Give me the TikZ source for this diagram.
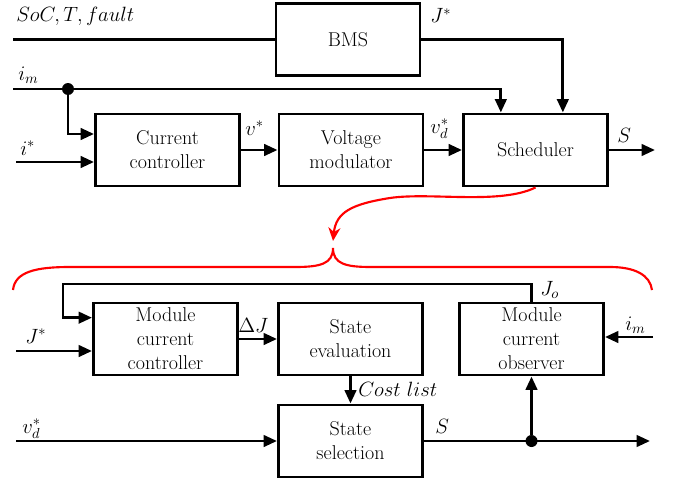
\documentclass[tikz,border=0pt]{standalone}
\usepackage{fix-cm}
\usepackage{fontspec}
\usetikzlibrary{arrows.meta}

\begin{document}
\begin{tikzpicture}[x=0.75pt, y=-0.75pt,
    blk/.style={draw, line width=2.2pt, align=center, inner sep=2pt,
                minimum width=108pt, minimum height=54pt,
                font=\rmfamily\fontsize{15}{18}\selectfont},
    ln/.style={line width=2.2pt},
    arr/.style={ln, -{Triangle[length=10pt, width=8.5pt]}},
    lbl/.style={anchor=base west, inner sep=0pt, font=\fontsize{15.5}{18}\selectfont},
    jdot/.style={circle, fill, inner sep=0pt, minimum size=9pt},
    redline/.style={red, line width=1.6pt}]
  \useasboundingbox (0,0) rectangle (677,485);
  % upper chain
  \node[blk] (bms)   at (348,39.5)  {BMS};
  \node[blk] (cc)    at (167.5,150) {Current\\controller};
  \node[blk] (vm)    at (351,150)   {Voltage\\modulator};
  \node[blk] (sched) at (535.5,150) {Scheduler};
  % inside the scheduler
  \node[blk] (mcc) at (165.5,339) {Module\\current\\controller};
  \node[blk] (se)  at (350.5,339) {State\\evaluation};
  \node[blk] (ss)  at (350.5,441) {State\\selection};
  \node[blk] (mco) at (531.5,339) {Module\\current\\observer};

  \coordinate (socin) at (13,39.5);
  \coordinate (imin)  at (13,89);
  \coordinate (istar) at (16,162);
  \coordinate (sout)  at (655,150);
  \node[jdot] (imdot) at (68,89) {};
  \draw[ln]  (socin) -- (bms.west);
  \draw[ln]  (imin) -- (imdot);
  \draw[arr] (imdot) -| ([xshift=-26pt]sched.north);
  \draw[arr] (imdot) |- ([yshift=12pt]cc.west);
  \draw[arr] (istar) -- (istar -| cc.west);
  \draw[arr] (bms.east) -| ([xshift=20.5pt]sched.north);
  \draw[arr] (cc) -- (vm); \draw[arr] (vm) -- (sched); \draw[arr] (sched) -- (sout);

  \coordinate (fbl)   at (63,284);
  \coordinate (jin)   at (16,351);
  \coordinate (vdin)  at (16,441);
  \coordinate (sout2) at (650,441);
  \coordinate (imin2) at (653,337);
  \node[jdot] (sdot) at (531.5,441) {};
  \draw[arr] (mco.north) |- (fbl) |- ([yshift=16pt]mcc.west);
  \draw[arr] (jin) -- (jin -| mcc.west);
  \draw[arr] (mcc) -- (se); \draw[arr] (se) -- (ss);
  \draw[arr] (vdin) -- (vdin -| ss.west);
  \draw[arr] (ss) -- (sout2);
  \draw[arr] (sdot) -- (mco);
  \draw[arr] (imin2) -- (imin2 -| mco.east);

  % red zoom marker
  \coordinate (tip) at (333,241);
  \draw[redline, -{Stealth[length=10pt, width=9pt]}] (sched.south)
    .. controls (500,205) and (430,192) .. (390,198)
    .. controls (352,204) and (336,212) .. (tip);
  \draw[redline] (13,290) .. controls (15,272) and (35,267) .. (70,267) -- (295,267)
    .. controls (320,267) and (333,264) .. (333,248)
    .. controls (333,264) and (346,267) .. (371,267) -- (610,267)
    .. controls (635,267) and (650,275) .. (652,290);

  % signal labels
  \node[lbl] (lsoc)   at (16,22)   {$SoC,T,fault$};
  \node[lbl] (ljbms)  at (430,23)  {$J^*$};
  \node[lbl] (lim)    at (18,80)   {$i_m$};
  \node[lbl] (listar) at (20,155)  {$i^*$};
  \node[lbl] (lvstar) at (245,135) {$v^*$};
  \node[lbl] (lvd)    at (430,133) {$v_d^*$};
  \node[lbl] (ls)     at (617,142) {$S$};
  \node[lbl] (ljstar) at (25,343)  {$J^*$};
  \node[lbl] (ldj)    at (238,332) {$\Delta J$};
  \node[lbl] (lvd2)   at (22,433)  {$v_d^*$};
  \node[lbl] (lcost)  at (358,396) {$Cost\ list$};
  \node[lbl] (ls2)    at (435,433) {$S$};
  \node[lbl] (ljo)    at (540,295) {$J_o$};
  \node[lbl] (lim2)   at (625,330) {$i_m$};
\end{tikzpicture}
\end{document}
